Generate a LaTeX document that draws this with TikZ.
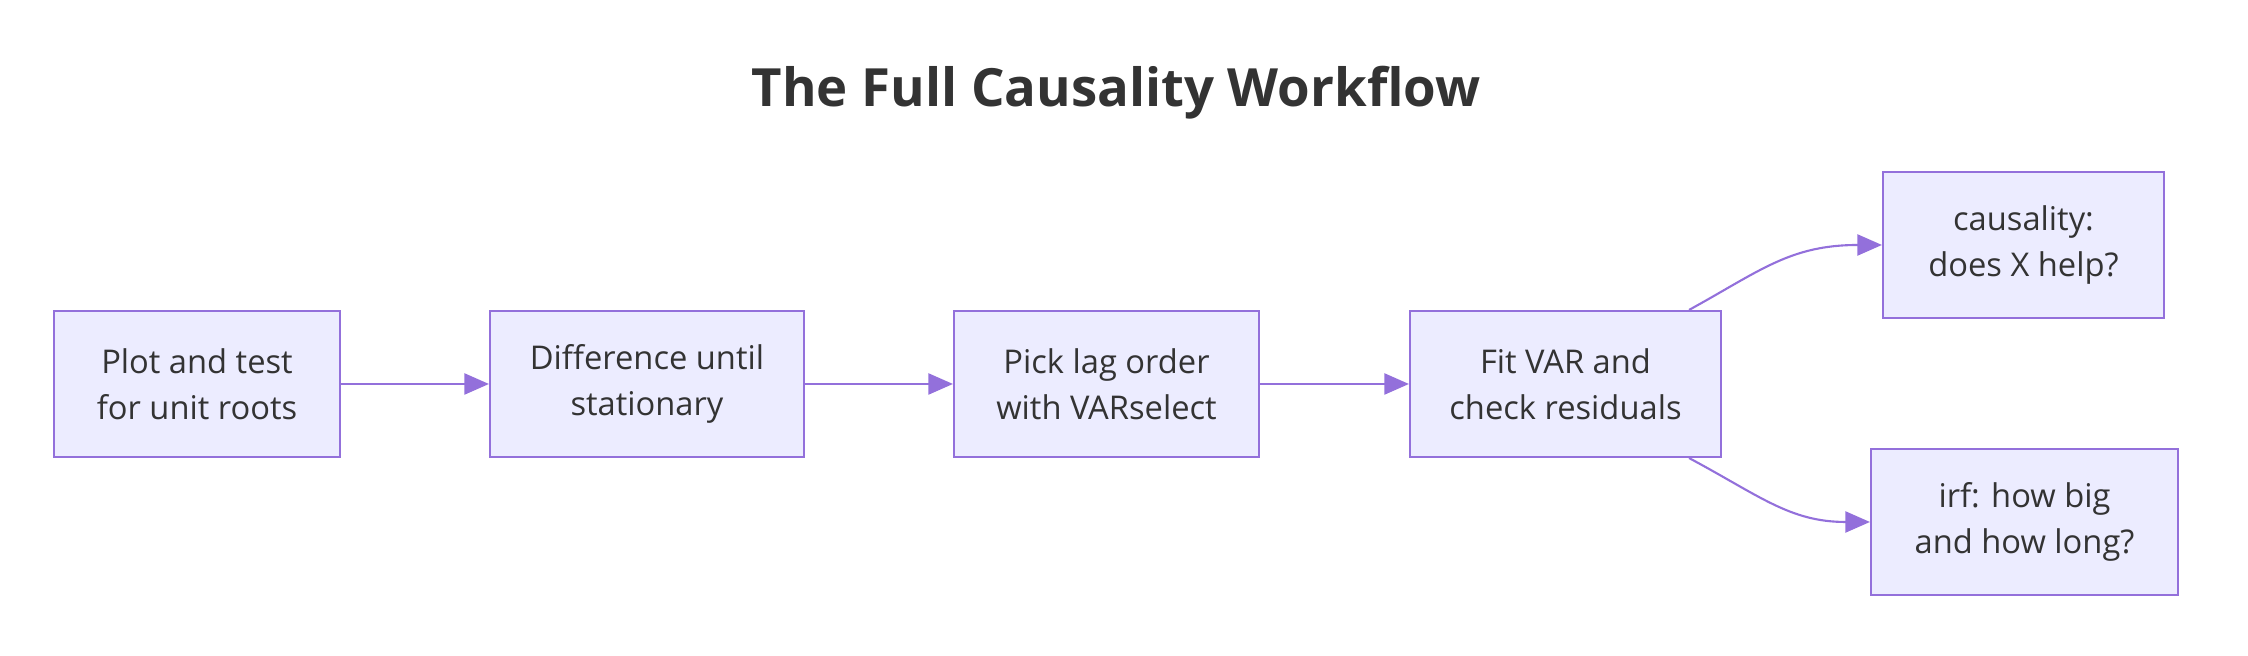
\documentclass[tikz,border=0pt]{standalone}
\usepackage{fontspec}
\setmainfont{Open Sans}
\usetikzlibrary{calc,arrows.meta}
\definecolor{boxfill}{HTML}{ECECFF}
\definecolor{boxline}{HTML}{9370DB}
\definecolor{txt}{HTML}{333333}
\tikzset{
  stepbox/.style={draw=boxline,fill=boxfill,text=txt,align=center,font=\fontsize{9.3}{13.2}\selectfont,minimum height=1.46cm,line width=0.6pt},
  flow/.style={draw=boxline,line width=0.6pt,-{Triangle[length=7pt,width=6pt]}}
}
\begin{document}
\begin{tikzpicture}
\useasboundingbox (0,0) rectangle (22.48,6.56);
\node[text=txt,font=\bfseries\fontsize{15}{18}\selectfont] (title) at (11.16,5.63) {The Full Causality Workflow};

\node[stepbox,minimum width=2.86cm] (v1) at (1.97,2.72) {Plot and test\\for unit roots};
\node[stepbox,minimum width=3.14cm] (v2) at (6.47,2.72) {Difference until\\stationary};
\node[stepbox,minimum width=3.05cm] (v3) at (11.065,2.72) {Pick lag order\\with VARselect};
\node[stepbox,minimum width=3.11cm] (v4) at (15.655,2.72) {Fit VAR and\\check residuals};
\node[stepbox,minimum width=2.81cm] (v5) at (20.235,4.11) {causality:\\does X help?};
\node[stepbox,minimum width=3.07cm] (v6) at (20.245,1.34) {irf: how big\\and how long?};

\coordinate (c1) at ($(v4.north east)+(-0.33,0)$);
\coordinate (c2) at ($(v4.south east)+(-0.33,0)$);

\foreach \from/\to in {v1/v2,v2/v3,v3/v4}
\draw[flow] (\from) -- (\to);
\draw[flow] (c1) .. controls (17.6,3.85) and (17.9,4.11) .. (v5.west);
\draw[flow] (c2) .. controls (17.6,1.6) and (17.9,1.34) .. (v6.west);
\end{tikzpicture}
\end{document}
